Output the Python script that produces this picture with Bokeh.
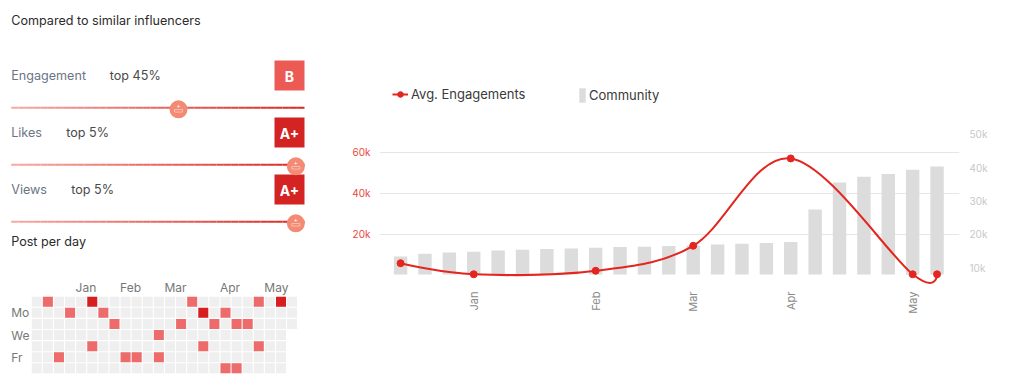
import math
from bokeh.plotting import figure
from bokeh.models import Range1d, LinearAxis, FixedTicker, Legend, LegendItem
from bokeh.layouts import row, column
from bokeh.embed import file_html
from bokeh.resources import INLINE
from bokeh.core.properties import value

FONT = "Inter"
RED = "#e3261f"

# ---------------- data ----------------
# comparison panel
metric_names = ["Engagement", "Likes", "Views"]
metric_top_pct = [45, 5, 5]
metric_grades = ["B", "A+", "A+"]
grade_colors = ["#ec5a56", "#d42323", "#d42323"]

# engagement chart (weekly)
weeks = list(range(23))
community = [13400, 14200, 14600, 14800, 15200, 15400, 15600, 15800, 16000,
             16200, 16300, 16500, 16700, 17000, 17200, 17400, 17700, 27500,
             35600, 37300, 38100, 39400, 40400]
eng_week = [0, 3, 8, 12, 16, 21, 22]
avg_eng = [6000, 600, 2300, 14500, 57100, 600, 600]
month_ticks = [3, 8, 12, 16, 21]
month_names = ["Jan", "Feb", "Mar", "Apr", "May"]
left_ticks = [20000, 40000, 60000]
left_labels = ["20k", "40k", "60k"]
right_ticks = [10000, 20000, 30000, 40000, 50000]
right_labels = ["10k", "20k", "30k", "40k", "50k"]
BAR_BASE = 8000

# post-per-day heatmap
heat_weeks = 24
days_in_last_week = 3
post_week = [1, 5, 14, 20, 22, 3, 6, 15, 17, 7, 13, 16, 18, 19, 11, 5, 15, 20, 2, 8, 9, 11, 17, 18]
post_day = [0, 0, 0, 0, 0, 1, 1, 1, 1, 2, 2, 2, 2, 2, 3, 4, 4, 4, 5, 5, 5, 5, 6, 6]
post_count = [1, 2, 1, 1, 2, 1, 1, 2, 1, 1, 1, 1, 1, 1, 1, 1, 1, 1, 1, 1, 1, 1, 1, 1]
heat_month_cols = [4, 8, 12, 17, 21]
heat_month_names = ["Jan", "Feb", "Mar", "Apr", "May"]
day_rows = [1, 3, 5]
day_names = ["Mo", "We", "Fr"]


def hexmix(c1, c2, t):
    a = [int(c1[i:i + 2], 16) for i in (1, 3, 5)]
    b = [int(c2[i:i + 2], 16) for i in (1, 3, 5)]
    return "#%02x%02x%02x" % tuple(int(round(a[k] + (b[k] - a[k]) * t)) for k in range(3))


# ---------------- left top panel (pixel coordinates) ----------------
top = figure(width=348, height=280, x_range=Range1d(0, 348), y_range=Range1d(280, 0),
             x_axis_type=None, y_axis_type=None, output_backend="svg",
             toolbar_location=None, min_border=0)
top.outline_line_color = None
top.grid.visible = False

X0 = 10.7
ROW_Y0, ROW_DY = 75, 57
row_y = [ROW_Y0 + i * ROW_DY for i in range(3)]
top.text(x=[X0], y=[20], text=["Compared to similar influencers"], text_font=value(FONT),
         text_font_size="12.6px", text_color="#2b2b2b", text_baseline="middle", text_align="left")
top.text(x=[X0] * 3, y=row_y, text=metric_names, text_font=value(FONT),
         text_font_size="12.6px", text_color="#6b7586", text_baseline="middle", text_align="left")
top.text(x=[109.3, 65.7, 70.7], y=row_y, text=["top %d%%" % p for p in metric_top_pct],
         text_font=value(FONT), text_font_size="12.6px", text_color="#4a4a4a",
         text_baseline="middle", text_align="left")
top.rect(x=[289] * 3, y=row_y, width=30, height=30, fill_color=grade_colors, line_color=None)
top.text(x=[289] * 3, y=[y + 1 for y in row_y], text=metric_grades, text_font=value(FONT),
         text_font_size="14px", text_font_style="bold", text_color="white",
         text_baseline="middle", text_align="center")

TRACK_X0, TRACK_X1 = 10.7, 304
NSEG = 40
for i, pct in enumerate(metric_top_pct):
    ty = row_y[i] + 32.3
    xs, ys, cs = [], [], []
    for k in range(NSEG):
        a = TRACK_X0 + (TRACK_X1 - TRACK_X0) * k / NSEG
        b = TRACK_X0 + (TRACK_X1 - TRACK_X0) * (k + 1) / NSEG
        xs.append([a, b])
        ys.append([ty, ty])
        cs.append(hexmix("#f6aaa3", "#d9251f", (k + 0.5) / NSEG))
    top.multi_line(xs=xs, ys=ys, line_color=cs, line_width=2)
    kx = TRACK_X0 + 6 + (1 - pct / 100) * (TRACK_X1 - TRACK_X0)
    top.scatter(x=[kx], y=[ty + 1.5], size=18, marker="circle", fill_color="#f38a74", line_color=None)
    top.text(x=[kx], y=[ty - 2.5], text=["+"], text_font=value(FONT), text_font_size="6px",
             text_color="white", text_baseline="middle", text_align="center")
    top.rect(x=[kx], y=[ty + 3], width=8, height=2.5, fill_color=None, line_color="#fde0d8", line_width=0.6)

top.text(x=[X0], y=[241], text=["Post per day"], text_font=value(FONT),
         text_font_size="12.6px", text_color="#2b2b2b", text_baseline="middle", text_align="left")

# ---------------- heatmap ----------------
heat = figure(width=348, height=106, x_range=Range1d(-3.266, 28.08), y_range=Range1d(7.635, -1.914),
              x_axis_type=None, y_axis_type=None, output_backend="svg",
              toolbar_location=None, min_border=0)
heat.outline_line_color = None
heat.grid.visible = False

gx, gy = [], []
for w in range(heat_weeks):
    for d in range(7):
        if w < heat_weeks - 1 or d < days_in_last_week:
            gx.append(w)
            gy.append(d)
heat.rect(x=gx, y=gy, width=0.9, height=0.9, fill_color="#efefef", line_color=None)
level_colors = {1: "#ee6b6b", 2: "#d81f1f"}
heat.rect(x=post_week, y=post_day, width=0.9, height=0.9,
          fill_color=[level_colors[c] for c in post_count], line_color=None)
heat.text(x=[c - 0.5 for c in heat_month_cols], y=[-1.28] * len(heat_month_cols), text=heat_month_names,
          text_font=value(FONT), text_font_size="12px", text_color="#777777",
          text_baseline="middle", text_align="left")
heat.text(x=[-0.5] * 3, y=day_rows, text=day_names, x_offset=-20,
          text_font=value(FONT), text_font_size="12px", text_color="#777777",
          text_baseline="middle", text_align="left")

# ---------------- engagement chart ----------------
chart = figure(width=676, height=386, x_range=Range1d(-0.865, 22.92), y_range=Range1d(-4390, 95120),
               output_backend="svg", toolbar_location=None,
               min_border_left=31, min_border_right=65, min_border_top=80, min_border_bottom=102)
chart.outline_line_color = None
chart.xgrid.grid_line_color = None
chart.ygrid.ticker = FixedTicker(ticks=left_ticks)
chart.ygrid.grid_line_color = "#e6e6e6"
chart.extra_y_ranges = {"right": Range1d(4980, 66180)}

bars = chart.vbar(x=weeks, top=community, bottom=BAR_BASE, width=0.55, fill_color="#dcdcdc",
                  line_color=None, y_range_name="right")

# cardinal (Catmull-Rom) bezier path through the engagement points
n = len(eng_week)
bx0, by0, bx1, by1, cx0, cy0, cx1, cy1 = [], [], [], [], [], [], [], []
for i in range(n - 1):
    ip = i - 1 if i > 0 else i + 1
    inx = i + 2 if i + 2 < n else i
    bx0.append(eng_week[i]); by0.append(avg_eng[i])
    bx1.append(eng_week[i + 1]); by1.append(avg_eng[i + 1])
    cx0.append(eng_week[i] + (eng_week[i + 1] - eng_week[ip]) / 6)
    cy0.append(avg_eng[i] + (avg_eng[i + 1] - avg_eng[ip]) / 6)
    cx1.append(eng_week[i + 1] - (eng_week[inx] - eng_week[i]) / 6)
    cy1.append(avg_eng[i + 1] - (avg_eng[inx] - avg_eng[i]) / 6)
curve = chart.bezier(x0=bx0, y0=by0, x1=bx1, y1=by1, cx0=cx0, cy0=cy0, cx1=cx1, cy1=cy1,
                     line_color=RED, line_width=2)
dots = chart.scatter(x=eng_week, y=avg_eng, size=7, marker="circle", fill_color=RED, line_color=RED)

ax = chart.xaxis[0]
ax.ticker = FixedTicker(ticks=month_ticks)
ax.major_label_overrides = {t: m for t, m in zip(month_ticks, month_names)}
ax.major_label_orientation = math.pi / 2
ax.axis_line_color = None
ax.major_tick_line_color = None
ax.minor_tick_line_color = None
ax.major_label_standoff = 1
ax.major_label_text_font = FONT
ax.major_label_text_font_size = "11px"
ax.major_label_text_color = "#8a8a8a"

ly = chart.yaxis[0]
ly.ticker = FixedTicker(ticks=left_ticks)
ly.major_label_overrides = {t: l for t, l in zip(left_ticks, left_labels)}
ly.axis_line_color = None
ly.major_tick_line_color = None
ly.minor_tick_line_color = None
ly.major_label_standoff = 3
ly.major_label_text_font = FONT
ly.major_label_text_font_size = "10px"
ly.major_label_text_color = "#e8483e"

ry = LinearAxis(y_range_name="right", ticker=FixedTicker(ticks=right_ticks))
ry.major_label_overrides = {t: l for t, l in zip(right_ticks, right_labels)}
ry.axis_line_color = None
ry.major_tick_line_color = None
ry.minor_tick_line_color = None
ry.major_label_standoff = 4
ry.major_label_text_font = FONT
ry.major_label_text_font_size = "10px"
ry.major_label_text_color = "#c8c8c8"
chart.add_layout(ry, "right")

leg1 = Legend(items=[LegendItem(label="Avg. Engagements", renderers=[curve, dots])],
              location=(13, 182), glyph_width=16, glyph_height=14, label_height=14,
              label_standoff=3, padding=0, margin=0, border_line_color=None,
              background_fill_alpha=0, label_text_font=FONT, label_text_font_size="13px",
              label_text_color="#3a3a3a")
leg2 = Legend(items=[LegendItem(label="Community", renderers=[bars])],
              location=(199, 180), glyph_width=8, glyph_height=18, label_height=18,
              label_standoff=3, padding=0, margin=0, border_line_color=None,
              background_fill_alpha=0, label_text_font=FONT, label_text_font_size="13px",
              label_text_color="#3a3a3a")
chart.add_layout(leg1)
chart.add_layout(leg2)

layout = row(column(top, heat), chart)
open("out.html", "w").write(file_html(layout, INLINE))
